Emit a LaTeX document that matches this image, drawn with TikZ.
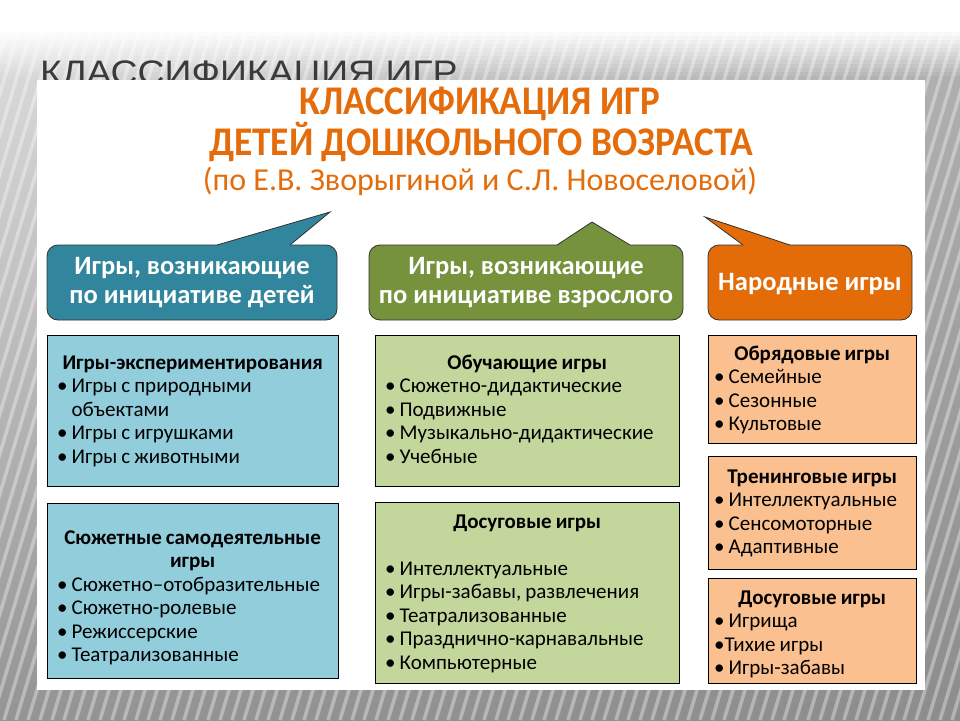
\documentclass[tikz,border=0pt]{standalone}
\usepackage{fontspec}
\setmainfont{Carlito}
\newfontfamily\bgfont{Liberation Sans}
\usetikzlibrary{shadings}
\definecolor{cblue}{HTML}{31859C}
\definecolor{cgreen}{HTML}{76923C}
\definecolor{corange}{HTML}{E36C09}
\definecolor{lblue}{HTML}{92CDDC}
\definecolor{lgreen}{HTML}{C3D69B}
\definecolor{lorange}{HTML}{FAC090}
\definecolor{ttl}{HTML}{E46C0A}
\definecolor{bgtext}{HTML}{3A3A3A}
\tikzset{
  cbox/.style={draw=black, line width=1pt},
  callout/.style={draw=black!80, line width=0.8pt, rounded corners=11pt},
  tailline/.style={draw=black!80, line width=0.8pt, line join=miter},
  btxt/.style={anchor=north west, inner sep=0pt, align=left, font=\fontsize{21}{23.5}\selectfont, text=black, execute at begin node={\spaceskip=4pt\relax}},
  ctxt/.style={inner sep=0pt, align=center, text=white, font=\bfseries\fontsize{26.5}{29}\selectfont},
  ttxt/.style={inner sep=0pt, text=ttl},
}
\newcommand{\bul}{\textbullet\hspace{4pt}}
\newcommand{\ind}{\phantom{\textbullet\hspace{4pt}}}
\newcommand{\hdr}[1]{\makebox[\linewidth]{\bfseries #1}}
\begin{document}
\begin{tikzpicture}[x=1pt,y=-1pt]
\useasboundingbox (0,0) rectangle (960,720);
% background
\shade[upper left=black!12, upper right=black!30, lower left=black!42, lower right=black!45] (0,0) rectangle (960,720);
\begin{scope}
\clip (0,0) rectangle (960,720);
\foreach \i in {-260,-248,...,980} {
  \draw[white, opacity=0.35, line width=3.5pt] (\i,720) -- (\i+216,0);
}
\end{scope}
\fill[white] (0,0) rectangle (960,28);
\foreach \k in {0,...,11} {
  \fill[white, opacity={1-\k/12}] (0,28+4*\k) rectangle (960,32+4*\k);
}
\node[anchor=base west, inner sep=0pt, text=bgtext, font=\bgfont\fontsize{34}{34}\selectfont] (bgtitle) at (40,84) {\scalebox{1.1}[1]{КЛАССИФИКАЦИЯ ИГР}};
% panel
\fill[white] (37,80) rectangle (925,690);
% titles
\node[ttxt, font=\bfseries\fontsize{37}{37}\selectfont] (t1) at (480,104) {\scalebox{1.0}[1.1]{КЛАССИФИКАЦИЯ ИГР}};
\node[ttxt, font=\bfseries\fontsize{37}{37}\selectfont] (t2) at (481,142) {\scalebox{1.01}[1.1]{ДЕТЕЙ ДОШКОЛЬНОГО ВОЗРАСТА}};
\node[ttxt, font=\fontsize{32}{32}\selectfont] (t3) at (480,181) {(по Е.В. Зворыгиной и С.Л. Новоселовой)};
% callouts
\path[callout, fill=cblue] (47,245) rectangle (337,320);
\fill[cblue] (217,245) -- (330,212) -- (290,245) -- (290,247.5) -- (217,247.5) -- cycle;
\path[tailline] (217,245) -- (330,212) -- (290,245);
\node[ctxt] (h1) at (192,283) {Игры, возникающие\\по инициативе детей};

\path[callout, fill=cgreen] (369,245) rectangle (683,320);
\fill[cgreen] (557,245) -- (592,222) -- (630,245) -- (630,247.5) -- (557,247.5) -- cycle;
\path[tailline] (557,245) -- (592,222) -- (630,245);
\node[ctxt] (h2) at (526,283) {Игры, возникающие\\по инициативе взрослого};

\path[callout, fill=corange] (708,245) rectangle (912,320);
\fill[corange] (743,245) -- (705,217) -- (790,245) -- (790,247.5) -- (743,247.5) -- cycle;
\path[tailline] (743,245) -- (705,217) -- (790,245);
\node[ctxt] (h3) at (810,284) {Народные игры};

% column 1
\path[cbox, fill=lblue] (47,335) rectangle (338,486);
\node[btxt, text width=271pt] (a1) at (57,352.5) {\strut\hdr{Игры-экспериментирования}\\\bul Игры с природными\\\ind объектами\\\bul Игры с игрушками\\\bul Игры с животными};
\path[cbox, fill=lblue] (47,503) rectangle (338,678);
\node[btxt, text width=271pt] (a2) at (57,527.5) {\strut\hdr{Сюжетные самодеятельные}\\\hdr{игры}\\\bul Сюжетно–отобразительные\\\bul Сюжетно-ролевые\\\bul Режиссерские\\\bul Театрализованные};
% column 2
\path[cbox, fill=lgreen] (375,335) rectangle (679,486);
\node[btxt, text width=284pt] (b1) at (385,352.5) {\strut\hdr{Обучающие игры}\\\bul Сюжетно-дидактические\\\bul Подвижные\\\bul Музыкально-дидактические\\\bul Учебные};
\path[cbox, fill=lgreen] (375,502) rectangle (679,683);
\node[btxt, text width=284pt] (b2) at (385,511.5) {\strut\hdr{Досуговые игры}\\[23.5pt]\bul Интеллектуальные\\\bul Игры-забавы, развлечения\\\bul Театрализованные\\\bul Празднично-карнавальные\\\bul Компьютерные};
% column 3
\path[cbox, fill=lorange] (708,335) rectangle (916,443);
\node[btxt, text width=196pt] (c1) at (714,343.5) {\strut\hdr{Обрядовые игры}\\\bul Семейные\\\bul Сезонные\\\bul Культовые};
\path[cbox, fill=lorange] (708,456) rectangle (916,569);
\node[btxt, text width=196pt] (c2) at (714,466.5) {\strut\hdr{Тренинговые игры}\\\bul Интеллектуальные\\\bul Сенсомоторные\\\bul Адаптивные};
\path[cbox, fill=lorange] (708,578) rectangle (916,683);
\node[btxt, text width=196pt] (c3) at (714,587.5) {\strut\hdr{Досуговые игры}\\\bul Игрища\\\textbullet Тихие игры\\\bul Игры-забавы};
\end{tikzpicture}
\end{document}
